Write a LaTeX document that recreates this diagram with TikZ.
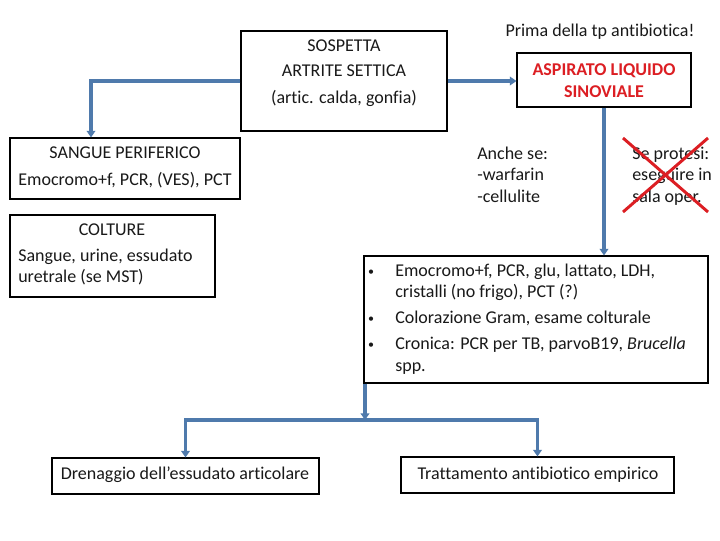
\documentclass[tikz,border=0pt]{standalone}
\usepackage{fontspec}
\setmainfont[Ligatures={NoCommon}]{Carlito}
\usetikzlibrary{arrows.meta,fit}
\definecolor{arr}{RGB}{79,122,172}
\definecolor{redt}{RGB}{220,30,35}
\definecolor{txtc}{RGB}{25,25,25}
\begin{document}
\begin{tikzpicture}[x=0.75pt,y=-0.75pt,
  box/.style={draw=black, line width=0.8pt, rectangle, inner sep=0pt},
  conn/.style={draw=arr, line width=2.3pt, -{Triangle[length=5pt,width=6.5pt]}},
  txt/.style={font=\fontsize{13.5}{16}\selectfont, text=txtc, inner sep=0pt, anchor=base},
  ltxt/.style={txt, anchor=base west},
  bul/.style={txt, font=\fontsize{9}{10}\selectfont},
  redtxt/.style={txt, font=\fontsize{13.5}{16}\selectfont\bfseries, text=redt}]
\useasboundingbox (0,0) rectangle (720,540);
\fill[white] (0,0) rectangle (720,540);

% boxes
\node[box, fit={(241,31) (447,131)}] (sosp) {};
\node[box, fit={(517,53) (691,107)}] (aspir) {};
\node[box, fit={(10,138) (240,199)}] (sangue) {};
\node[box, fit={(10,215) (215,297)}] (colture) {};
\node[box, fit={(364,256) (708,383)}] (bullet) {};
\node[box, fit={(52,458) (319,494)}] (dren) {};
\node[box, fit={(401,457) (674,493)}] (tratt) {};

% texts
\node[txt] (prima) at (600,36) {Prima della tp antibiotica!};
\node[txt] (s1) at (344,51) {SOSPETTA};
\node[txt] (s2) at (344,76) {ARTRITE SETTICA};
\node[txt] (s3) at (344,103) {(artic. calda, gonfia)};
\node[redtxt] (a1) at (604,75) {ASPIRATO LIQUIDO};
\node[redtxt] (a2) at (604,97) {SINOVIALE};
\node[txt] (g1) at (125,158) {SANGUE PERIFERICO};
\node[txt] (g2) at (125,185) {Emocromo+f, PCR, (VES), PCT};
\node[txt] (c1) at (112,235) {COLTURE};
\node[ltxt] (c2) at (18,261) {Sangue, urine, essudato};
\node[ltxt] (c3) at (18,282) {uretrale (se MST)};
\node[ltxt] (an1) at (477,159) {Anche se:};
\node[ltxt] (an2) at (477,180) {-warfarin};
\node[ltxt] (an3) at (477,202) {-cellulite};
\node[ltxt] (p1) at (632,159) {Se protesi:};
\node[ltxt] (p2) at (632,180) {eseguire in};
\node[ltxt] (p3) at (632,202) {sala oper.};
\node[bul] (b1) at (371,275) {•};
\node[bul] (b2) at (371,322) {•};
\node[bul] (b3) at (371,348) {•};
\node[ltxt] (l1) at (395,276) {Emocromo+f, PCR, glu, lattato, LDH,};
\node[ltxt] (l2) at (395,297) {cristalli (no frigo), PCT (?)};
\node[ltxt] (l3) at (395,323) {Colorazione Gram, esame colturale};
\node[ltxt] (l4) at (395,349) {Cronica: PCR per TB, parvoB19, \textit{Brucella}};
\node[ltxt] (l5) at (395,371) {spp.};
\node[txt] (dt) at (185,479) {Drenaggio dell’essudato articolare};
\node[txt] (tt) at (538,479) {Trattamento antibiotico empirico};

% red cross
\draw[redt, line width=2.2pt] (623,138) -- (708,212) (708,138) -- (623,212);

% connectors
\coordinate (k1) at (91,81);
\coordinate (split) at (365,420);
\draw[conn] (sosp.west) -- (k1) -- (k1 |- sangue.north);
\draw[conn] (sosp.east) -- (sosp.east -| aspir.west);
\draw[conn] (aspir.south) -- (aspir.south |- bullet.north);
\draw[conn] (split |- bullet.south) -- (split);
\draw[conn] (split) -| (dren.north);
\draw[conn] (split) -| (tratt.north);
\end{tikzpicture}
\end{document}
